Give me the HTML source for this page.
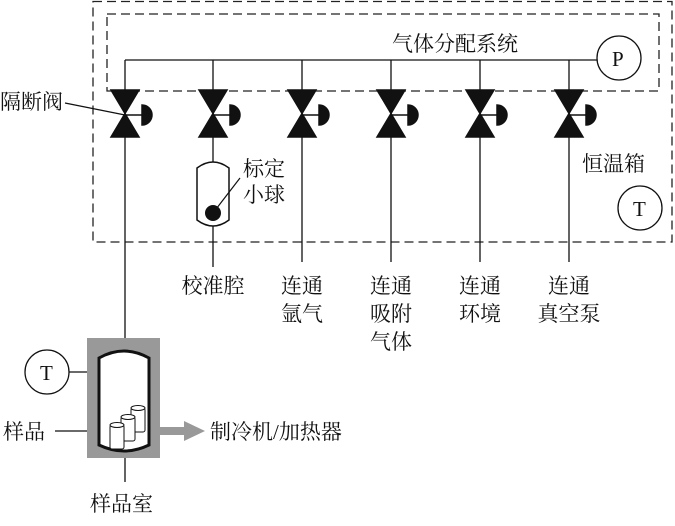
<!DOCTYPE html>
<html><head><meta charset="utf-8"><style>
html,body{margin:0;padding:0;background:#fff}
svg text{font-family:"Liberation Serif","Noto Serif CJK SC","Noto Sans CJK SC",serif;font-size:21px;fill:#111}
</style></head><body>
<svg width="675" height="521" viewBox="0 0 675 521" xmlns="http://www.w3.org/2000/svg">
<g fill="none" stroke="#222" stroke-width="1.3" stroke-dasharray="9,5">
<rect x="93" y="1.5" width="579" height="240.5"/>
<rect x="107" y="14" width="552" height="77"/>
</g>
<g stroke="#111" stroke-width="1.3" fill="none">
<line x1="125" y1="60" x2="597" y2="60"/>
<circle cx="619" cy="58" r="22" fill="#fff"/>
<circle cx="640" cy="208" r="22"/>
<line x1="125" y1="60" x2="125" y2="338"/>
<line x1="213" y1="60" x2="213" y2="267"/>
<line x1="302" y1="60" x2="302" y2="262"/>
<line x1="391" y1="60" x2="391" y2="262"/>
<line x1="480" y1="60" x2="480" y2="262"/>
<line x1="569" y1="60" x2="569" y2="262"/>
<line x1="65" y1="103" x2="125" y2="115"/>
</g>
<g id="v">
</g>
<g fill="#111" stroke="#111" stroke-width="1.5">
<path d="M111 90 L139 90 L111 137 L139 137 Z"/><line x1="125" y1="115" x2="142" y2="115"/><path d="M142 105 A10 10 0 0 1 142 125 Z"/>
<path d="M199 90 L227 90 L199 137 L227 137 Z"/><line x1="213" y1="115" x2="230" y2="115"/><path d="M230 105 A10 10 0 0 1 230 125 Z"/>
<path d="M288 90 L316 90 L288 137 L316 137 Z"/><line x1="302" y1="115" x2="319" y2="115"/><path d="M319 105 A10 10 0 0 1 319 125 Z"/>
<path d="M377 90 L405 90 L377 137 L405 137 Z"/><line x1="391" y1="115" x2="408" y2="115"/><path d="M408 105 A10 10 0 0 1 408 125 Z"/>
<path d="M466 90 L494 90 L466 137 L494 137 Z"/><line x1="480" y1="115" x2="497" y2="115"/><path d="M497 105 A10 10 0 0 1 497 125 Z"/>
<path d="M555 90 L583 90 L555 137 L583 137 Z"/><line x1="569" y1="115" x2="586" y2="115"/><path d="M586 105 A10 10 0 0 1 586 125 Z"/>
</g>
<!-- calibration cylinder -->
<path d="M197 168 Q213 156 229 168 L229 220 Q213 232 197 220 Z" fill="#fff" stroke="#111" stroke-width="1.5"/>
<circle cx="213" cy="213" r="8" fill="#111"/>
<line x1="213" y1="213" x2="240" y2="178" stroke="#111" stroke-width="1.2"/>
<!-- sample chamber -->
<rect x="87" y="338" width="73" height="120" fill="#999"/>
<path d="M99 358 Q124 344 149 358 L149 445 Q124 457 99 445 Z" fill="#fff" stroke="#111" stroke-width="3"/>
<g fill="#fff" stroke="#111" stroke-width="1">
<rect x="131" y="408" width="14" height="24" rx="2"/><ellipse cx="138" cy="408" rx="7" ry="2.5"/>
<rect x="121" y="417" width="14" height="24" rx="2"/><ellipse cx="128" cy="417" rx="7" ry="2.5"/>
<rect x="110" y="425" width="14" height="24" rx="2"/><ellipse cx="117" cy="425" rx="7" ry="2.5"/>
</g>
<path d="M160 427 L184 427 L184 421 L205 431 L184 441 L184 435 L160 435 Z" fill="#999"/>
<g stroke="#111" stroke-width="1.3" fill="none">
<circle cx="47" cy="372" r="22"/>
<line x1="69" y1="372" x2="87" y2="372"/>
<line x1="55" y1="431" x2="87" y2="431"/>
<line x1="125" y1="458" x2="125" y2="482"/>
</g>
<text x="612" y="66" font-size="20">P</text>
<text x="633" y="216" font-size="20">T</text>
<text x="40" y="380" font-size="20">T</text>
<text x="392" y="51" font-size="22">气体分配系统</text>
<text x="0" y="109" font-size="22">隔断阀</text>
<text x="243" y="176" font-size="22">标定</text>
<text x="243" y="202" font-size="22">小球</text>
<text x="582" y="171" font-size="22">恒温箱</text>
<g font-size="22" text-anchor="middle">
<text x="213" y="293" text-anchor="middle">校准腔</text>
<text x="302" y="293" text-anchor="middle">连通</text><text x="302" y="321" text-anchor="middle">氩气</text>
<text x="391" y="293" text-anchor="middle">连通</text><text x="391" y="321" text-anchor="middle">吸附</text><text x="391" y="349" text-anchor="middle">气体</text>
<text x="480" y="293" text-anchor="middle">连通</text><text x="480" y="321" text-anchor="middle">环境</text>
<text x="569" y="293" text-anchor="middle">连通</text><text x="569" y="321" text-anchor="middle">真空泵</text>
</g>
<text x="3" y="439" font-size="22">样品</text>
<text x="210" y="439" font-size="22">制冷机/加热器</text>
<text x="90" y="511" font-size="22">样品室</text>
</svg>
</body></html>
